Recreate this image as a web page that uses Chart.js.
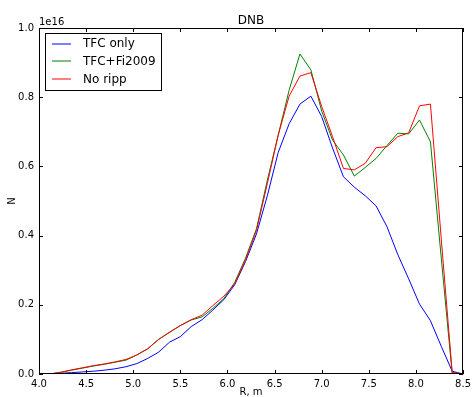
<!DOCTYPE html>
<html>
<head>
<meta charset="utf-8">
<script src="https://cdn.jsdelivr.net/npm/chart.js@4/dist/chart.umd.min.js"></script>
<style>
html,body{margin:0;padding:0;background:#fff;}
canvas{display:block;}
</style>
</head>
<body>
<canvas id="c" width="475" height="397"></canvas>
<script>
// Radius positions, m
const rPos = [4.000,4.115,4.231,4.346,4.462,4.577,4.692,4.808,4.923,5.038,
              5.154,5.269,5.385,5.500,5.615,5.731,5.846,5.962,6.077,6.192,
              6.308,6.423,6.538,6.654,6.769,6.885,7.000,7.115,7.231,7.346,
              7.462,7.577,7.692,7.808,7.923,8.038,8.154,8.269,8.385,8.500];
// N values in units of 1e16
const tfcOnly = [0,0,0.002,0.004,0.006,0.008,0.011,0.015,0.021,0.030,
                 0.045,0.063,0.092,0.108,0.137,0.157,0.185,0.215,0.258,0.325,
                 0.405,0.515,0.640,0.723,0.780,0.803,0.744,0.653,0.570,0.540,
                 0.515,0.486,0.426,0.345,0.275,0.202,0.154,0.080,0.008,0.0];
const tfcFi2009 = [0,0,0.005,0.011,0.017,0.023,0.028,0.034,0.040,0.055,
                   0.073,0.100,0.120,0.140,0.156,0.165,0.190,0.218,0.265,0.335,
                   0.420,0.560,0.690,0.820,0.925,0.879,0.760,0.676,0.633,0.572,
                   0.597,0.623,0.660,0.696,0.694,0.734,0.671,0.335,0.0,0.0];
const noRipp = [0,0,0.005,0.012,0.018,0.024,0.029,0.035,0.042,0.055,
                0.073,0.100,0.121,0.140,0.157,0.170,0.198,0.225,0.260,0.330,
                0.415,0.550,0.690,0.803,0.861,0.871,0.773,0.686,0.594,0.590,
                0.609,0.654,0.657,0.686,0.697,0.775,0.780,0.390,0.005,0.0];
const seriesNames = ["TFC only","TFC+Fi2009","No ripp"];
const seriesColors = ["#0000ff","#008000","#ff0000"];
const xTicks = [4.0,4.5,5.0,5.5,6.0,6.5,7.0,7.5,8.0,8.5];
const yTicks = [0.0,0.2,0.4,0.6,0.8,1.0];

const FONT = '"DejaVu Sans", sans-serif';
function pts(ys){ return ys.map((y,i)=>({x:rPos[i], y:y})); }

const decor = {
  id:'decor',
  afterDatasetsDraw(chart){
    const ctx = chart.ctx, a = chart.chartArea;
    const xs = chart.scales.x, ys = chart.scales.y;
    ctx.save();
    // frame
    ctx.strokeStyle = '#000'; ctx.lineWidth = 1;
    ctx.strokeRect(Math.round(a.left)+0.5, Math.round(a.top)+0.5,
                   Math.round(a.right-a.left)-1, Math.round(a.bottom-a.top)-1);
    // inward ticks on all sides
    const TL = 4;
    ctx.beginPath();
    xTicks.forEach(v=>{
      const px = Math.round(xs.getPixelForValue(v))+0.5;
      ctx.moveTo(px, a.bottom); ctx.lineTo(px, a.bottom-TL);
      ctx.moveTo(px, a.top); ctx.lineTo(px, a.top+TL);
    });
    yTicks.forEach(v=>{
      const py = Math.round(ys.getPixelForValue(v))+0.5;
      ctx.moveTo(a.left, py); ctx.lineTo(a.left+TL, py);
      ctx.moveTo(a.right, py); ctx.lineTo(a.right-TL, py);
    });
    ctx.stroke();
    // title
    ctx.fillStyle = '#000';
    ctx.font = '12px ' + FONT;
    ctx.textAlign = 'center'; ctx.textBaseline = 'alphabetic';
    ctx.fillText('DNB', (a.left+a.right)/2, 24);
    // offset text
    ctx.font = '10px ' + FONT;
    ctx.textAlign = 'left';
    ctx.fillText('1e16', a.left, 25);
    // axis labels
    ctx.textAlign = 'center';
    ctx.fillText('R, m', (a.left+a.right)/2, 395);
    ctx.save();
    ctx.translate(15, (a.top+a.bottom)/2);
    ctx.rotate(-Math.PI/2);
    ctx.fillText('N', 0, 0);
    ctx.restore();
    // legend
    const lx = 45.5, ly = 33.5, lw = 116, lh = 57;
    ctx.fillStyle = '#fff';
    ctx.fillRect(lx, ly, lw, lh);
    ctx.strokeStyle = '#000';
    ctx.strokeRect(lx, ly, lw, lh);
    ctx.font = '12px ' + FONT;
    ctx.textAlign = 'left'; ctx.textBaseline = 'middle';
    seriesNames.forEach((name,i)=>{
      const y = 43.5 + i*17.7;
      ctx.strokeStyle = seriesColors[i]; ctx.lineWidth = 1;
      ctx.beginPath(); ctx.moveTo(52, Math.round(y)); ctx.lineTo(71, Math.round(y)); ctx.stroke();
      ctx.fillStyle = '#000';
      ctx.fillText(name, 83, y+0.5);
    });
    ctx.restore();
  }
};

new Chart(document.getElementById('c'), {
  type:'line',
  data:{
    datasets:[
      {label:seriesNames[0], data:pts(tfcOnly), borderColor:seriesColors[0], order:2},
      {label:seriesNames[1], data:pts(tfcFi2009), borderColor:seriesColors[1], order:1},
      {label:seriesNames[2], data:pts(noRipp), borderColor:seriesColors[2], order:0}
    ].map(d=>Object.assign(d,{borderWidth:1, pointRadius:0, tension:0, fill:false}))
  },
  options:{
    responsive:false, animation:false, devicePixelRatio:1,
    layout:{padding:{left:0,right:8,top:28,bottom:0}},
    plugins:{legend:{display:false}, title:{display:false}, tooltip:{enabled:false}},
    scales:{
      x:{type:'linear', min:4, max:8.5,
         afterBuildTicks(s){ s.ticks = xTicks.map(v=>({value:v})); },
         afterFit(s){ s.height = 23; },
         grid:{display:false, drawTicks:false}, border:{display:false},
         ticks:{padding:4, color:'#000', font:{family:FONT,size:10}, maxRotation:0,
                callback:v=>Number(v).toFixed(1)}},
      y:{type:'linear', min:0, max:1,
         afterBuildTicks(s){ s.ticks = yTicks.map(v=>({value:v})); },
         afterFit(s){ s.width = 39; },
         grid:{display:false, drawTicks:false}, border:{display:false},
         ticks:{padding:5, color:'#000', font:{family:FONT,size:10},
                callback:v=>Number(v).toFixed(1)}}
    }
  },
  plugins:[decor]
});
</script>
</body>
</html>
